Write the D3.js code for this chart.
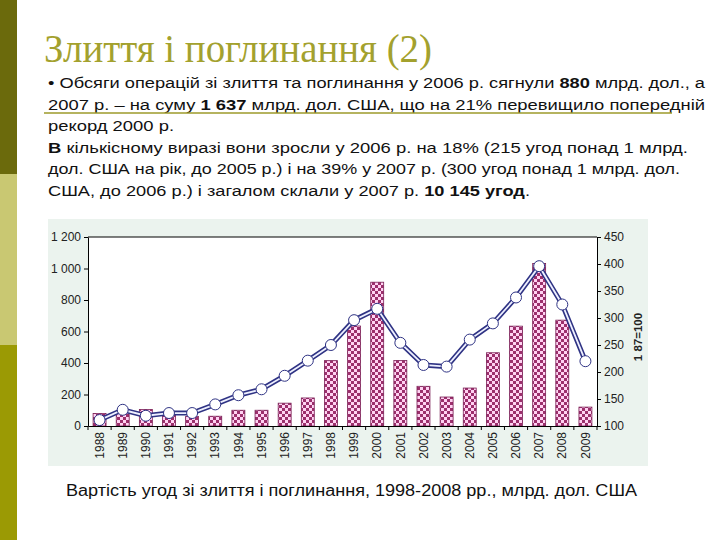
<!DOCTYPE html>
<html>
<head>
<meta charset="utf-8">
<script src="https://cdn.jsdelivr.net/npm/d3@7"></script>
<style>
  body { margin: 0; background: #fff; }
  svg { display: block; }
  .title { font-family: "Liberation Serif", "DejaVu Serif", serif; }
</style>
</head>
<body>
<script>
// chart data
const years = ["1988","1989","1990","1991","1992","1993","1994","1995","1996","1997","1998",
  "1999","2000","2001","2002","2003","2004","2005","2006","2007","2008","2009"];
const dealValue = [80, 90, 105, 80, 60, 62, 100, 100, 145, 178, 415,
  635, 913, 416, 252, 184, 241, 465, 634, 1032, 672, 120];
const dealIndex = [111, 130, 119, 124, 124, 140, 157, 168, 193, 221, 250,
  296, 317, 254, 213, 210, 260, 290, 338, 396, 325, 220];
const leftTicks = [0, 200, 400, 600, 800, 1000, 1200];
const rightTicks = [100, 150, 200, 250, 300, 350, 400, 450];

const title = "Злиття і поглинання (2)";
const caption = "Вартість угод зі злиття і поглинання, 1998-2008 рр., млрд. дол. США";
// each line: list of [text, bold]
const bodyLines = [
  [["• Обсяги операцій зі злиття та поглинання у 2006 р. сягнули ", false], ["880", true], [" млрд. дол., а", false]],
  [["2007 р. – на суму ", false], ["1 637", true], [" млрд. дол. США, що на 21% перевищило попередній", false]],
  [["рекорд 2000 р.", false]],
  [["В", true], [" кількісному виразі вони зросли у 2006 р. на 18% (215 угод понад 1 млрд.", false]],
  [["дол. США на рік, до 2005 р.) і на 39% у 2007 р. (300 угод понад 1 млрд. дол.", false]],
  [["США, до 2006 р.) і загалом склали у 2007 р. ", false], ["10 145 угод", true], [".", false]]
];
const lineWidths = [657, 657, 126, 640, 632, 482];

const W = 720, H = 540;
const plot = { left: 88, right: 597, top: 237, bottom: 426 };
const sans = "'Liberation Sans', Arial, sans-serif";

const svg = d3.select("body").append("svg")
  .attr("width", W).attr("height", H);

// slide side strip
svg.append("rect").attr("x", 0).attr("y", 0).attr("width", 17).attr("height", 174).attr("fill", "#6b6a0c");
svg.append("rect").attr("x", 0).attr("y", 174).attr("width", 17).attr("height", 171).attr("fill", "#c9c872");
svg.append("rect").attr("x", 0).attr("y", 345).attr("width", 17).attr("height", 195).attr("fill", "#9b9a04");

// title
svg.append("text")
  .attr("class", "title")
  .attr("x", 44).attr("y", 62)
  .attr("font-size", 40)
  .attr("fill", "#a3a12e")
  .attr("textLength", 388)
  .attr("lengthAdjust", "spacingAndGlyphs")
  .text(title);

// body text
bodyLines.forEach((parts, i) => {
  const t = svg.append("text")
    .attr("x", 48).attr("y", 88 + i * 21.6)
    .style("font-family", sans)
    .attr("font-size", 15.5)
    .attr("fill", "#111")
    .attr("textLength", lineWidths[i])
    .attr("lengthAdjust", "spacingAndGlyphs");
  parts.forEach(p => {
    t.append("tspan").attr("font-weight", p[1] ? "bold" : "normal").text(p[0]);
  });
});

// underline under the 2nd line
svg.append("line")
  .attr("x1", 44).attr("x2", 672).attr("y1", 113).attr("y2", 113)
  .attr("stroke", "#9d9a2a").attr("stroke-width", 1.5);

// chart panel
svg.append("rect")
  .attr("x", 48).attr("y", 219).attr("width", 600).attr("height", 247)
  .attr("fill", "#ebf3ee");
svg.append("rect")
  .attr("x", plot.left).attr("y", plot.top)
  .attr("width", plot.right - plot.left).attr("height", plot.bottom - plot.top)
  .attr("fill", "#fff");

// checker pattern
const defs = svg.append("defs");
const pat = defs.append("pattern")
  .attr("id", "checker")
  .attr("patternUnits", "userSpaceOnUse")
  .attr("width", 6).attr("height", 6);
pat.append("rect").attr("width", 6).attr("height", 6).attr("fill", "#ffd2f2");
pat.append("rect").attr("width", 3).attr("height", 3).attr("fill", "#9c2f6c");
pat.append("rect").attr("x", 3).attr("y", 3).attr("width", 3).attr("height", 3).attr("fill", "#9c2f6c");

const x = d3.scaleBand().domain(years).range([plot.left, plot.right]).padding(0);
const yL = d3.scaleLinear().domain([0, 1200]).range([plot.bottom, plot.top]);
const yR = d3.scaleLinear().domain([100, 450]).range([plot.bottom, plot.top]);

const barW = x.bandwidth() * 0.56;

// bars
svg.append("g").selectAll("rect")
  .data(years)
  .join("rect")
  .attr("x", (d) => x(d) + (x.bandwidth() - barW) / 2)
  .attr("y", (d, i) => yL(dealValue[i]))
  .attr("width", barW)
  .attr("height", (d, i) => yL(0) - yL(dealValue[i]))
  .attr("fill", "url(#checker)")
  .attr("stroke", "#7a1f55")
  .attr("stroke-width", 0.8);

// line (double stroke look)
const line = d3.line()
  .x((d, i) => x(years[i]) + x.bandwidth() / 2)
  .y((d) => yR(d));
svg.append("path").datum(dealIndex)
  .attr("d", line).attr("fill", "none")
  .attr("stroke", "#2f3384").attr("stroke-width", 5);
svg.append("path").datum(dealIndex)
  .attr("d", line).attr("fill", "none")
  .attr("stroke", "#eef0ff").attr("stroke-width", 1.8);

svg.append("g").selectAll("circle")
  .data(dealIndex)
  .join("circle")
  .attr("cx", (d, i) => x(years[i]) + x.bandwidth() / 2)
  .attr("cy", (d) => yR(d))
  .attr("r", 5.5)
  .attr("fill", "#fff")
  .attr("stroke", "#2f3384")
  .attr("stroke-width", 1);

// frame top
svg.append("line")
  .attr("x1", plot.left).attr("x2", plot.right)
  .attr("y1", plot.top).attr("y2", plot.top)
  .attr("stroke", "#000").attr("stroke-width", 1);

// axes
const fmt = d => d >= 1000 ? d3.format(",")(d).replace(",", " ") : String(d);
const axisFont = g => g.selectAll("text")
  .style("font-family", sans)
  .attr("font-size", 12).attr("fill", "#222");

svg.append("g")
  .attr("transform", `translate(${plot.left},0)`)
  .call(d3.axisLeft(yL).tickValues(leftTicks).tickFormat(fmt).tickSize(4).tickSizeOuter(0))
  .call(axisFont)
  .call(g => g.select(".domain").attr("stroke", "#000"));

svg.append("g")
  .attr("transform", `translate(${plot.right},0)`)
  .call(d3.axisRight(yR).tickValues(rightTicks).tickSize(4).tickSizeOuter(0))
  .call(axisFont)
  .call(g => g.select(".domain").attr("stroke", "#000"));

const xAxis = svg.append("g")
  .attr("transform", `translate(0,${plot.bottom})`)
  .call(d3.axisBottom(x).tickSize(0).tickSizeOuter(0));
xAxis.select(".domain").attr("stroke", "#000");
xAxis.selectAll("text")
  .style("font-family", sans)
  .attr("font-size", 12).attr("fill", "#222")
  .attr("transform", "rotate(-90)")
  .attr("text-anchor", "end")
  .attr("x", -6).attr("y", 0)
  .attr("dy", "0.35em");

// tick marks at band edges
svg.append("g").selectAll("line")
  .data(years.concat(["end"]))
  .join("line")
  .attr("x1", d => d === "end" ? plot.right : x(d))
  .attr("x2", d => d === "end" ? plot.right : x(d))
  .attr("y1", plot.bottom).attr("y2", plot.bottom + 4)
  .attr("stroke", "#000");

// right axis label
svg.append("text")
  .attr("transform", `translate(642,337) rotate(-90)`)
  .attr("text-anchor", "middle")
  .style("font-family", sans)
  .attr("font-size", 11.5).attr("font-weight", "bold").attr("fill", "#222")
  .text("1 87=100");

// caption
svg.append("text")
  .attr("x", 66).attr("y", 496)
  .style("font-family", sans)
  .attr("font-size", 16).attr("fill", "#111")
  .attr("textLength", 571)
  .attr("lengthAdjust", "spacingAndGlyphs")
  .text(caption);
</script>
</body>
</html>
